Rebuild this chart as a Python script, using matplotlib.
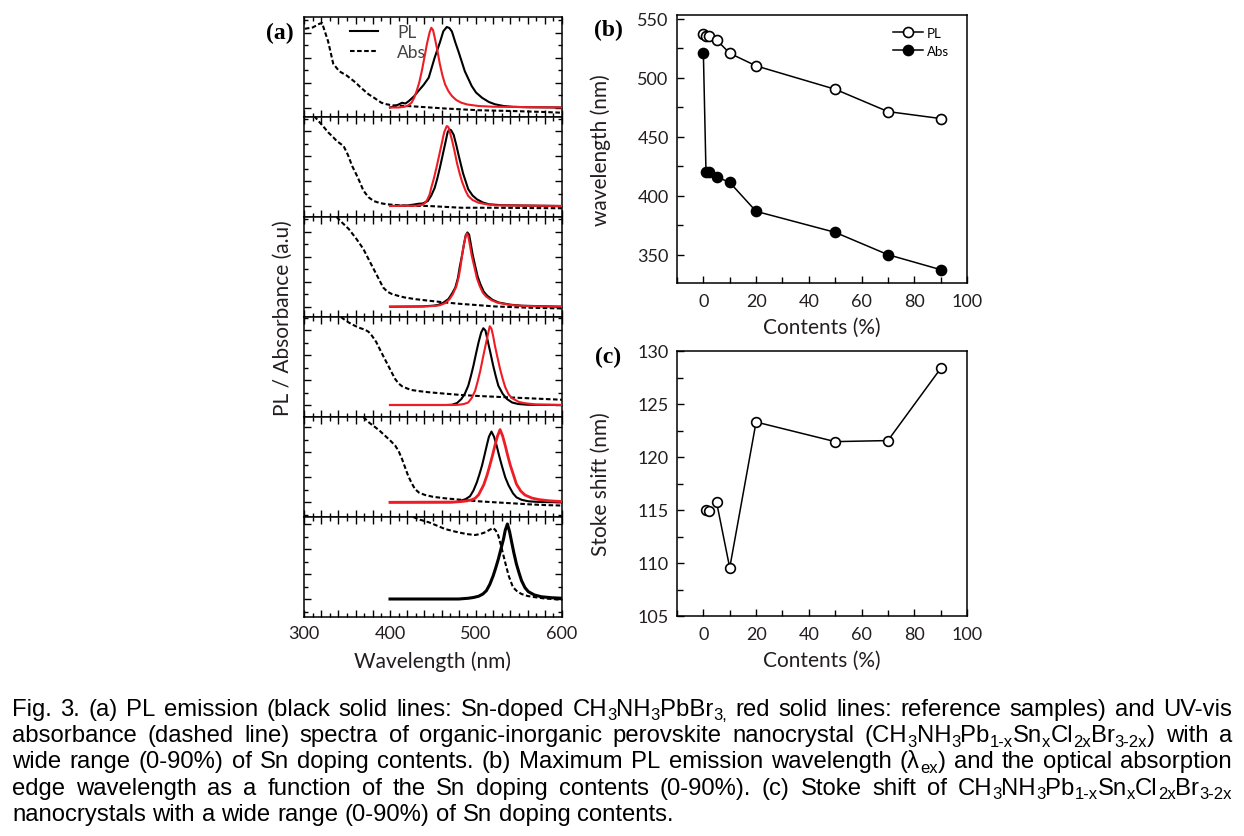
import re
import matplotlib
matplotlib.use('Agg')
import matplotlib.pyplot as plt
from matplotlib.ticker import MultipleLocator, FuncFormatter

plt.rcParams['font.family'] = ['Lato', 'DejaVu Sans']

# ---- (a) spectra: wavelength (nm), intensity (a.u.)
abs1_wl = [301, 310, 318, 321, 328, 334, 341, 350, 360, 365, 375, 381, 390, 396, 402, 412, 425, 464, 503, 541, 580, 600]
abs1 = [3.15, 3.2, 3.35, 3.38, 2.65, 1.75, 1.45, 1.27, 1.0, 0.83, 0.53, 0.4, 0.19, 0.13, 0.09, 0.07, 0.05, -0.04, -0.11, -0.14, -0.18, -0.21]
pl1_wl = [400, 405, 410, 414, 418, 422, 428, 433, 439, 445, 452, 458, 462, 466, 469, 472, 476, 480, 487, 495, 500, 507, 515, 522, 532, 542, 560, 600]
pl1 = [0, 0.05, 0.12, 0.19, 0.16, 0.26, 0.45, 0.66, 0.9, 1.19, 2.0, 2.6, 3.05, 3.22, 3.18, 3.04, 2.6, 2.2, 1.45, 0.86, 0.6, 0.39, 0.22, 0.13, 0.06, 0.03, 0.01, 0]
ref1_wl = [400, 410, 417, 421, 425, 428, 431, 434, 437, 440, 443, 446, 448, 450, 452, 455, 458, 461, 464, 468, 472, 477, 483, 490, 503, 520, 600]
ref1 = [0, 0, 0.03, 0.08, 0.19, 0.38, 0.66, 1.0, 1.46, 2.0, 2.55, 3.0, 3.19, 3.1, 2.8, 2.3, 1.73, 1.28, 0.93, 0.65, 0.46, 0.3, 0.19, 0.12, 0.06, 0.03, 0]

abs2_wl = [312, 315, 322, 328, 334, 338, 346, 351, 356, 361, 365, 369, 375, 381, 388, 396, 417, 445, 483, 522, 560, 600]
abs2 = [3.6, 3.47, 3.2, 2.95, 2.75, 2.6, 2.4, 2.05, 1.6, 1.25, 0.95, 0.62, 0.35, 0.2, 0.12, 0.07, 0.01, 0.0, -0.07, -0.07, -0.08, -0.09]
pl2_wl = [400, 420, 428, 433, 438, 444, 448, 452, 455, 458, 461, 464, 467, 469, 471, 474, 477, 480, 485, 491, 496, 501, 508, 515, 530, 600]
pl2 = [0, 0.02, 0.06, 0.09, 0.1, 0.2, 0.42, 0.73, 1.1, 1.53, 2.0, 2.47, 2.95, 3.07, 3.03, 2.85, 2.45, 2.0, 1.3, 0.67, 0.42, 0.27, 0.14, 0.07, 0.03, 0]
ref2_wl = [400, 430, 437, 440, 443, 446, 448, 451, 454, 457, 460, 463, 466, 468, 470, 472, 475, 478, 481, 484, 488, 491, 496, 503, 512, 522, 600]
ref2 = [0, 0.01, 0.04, 0.1, 0.23, 0.45, 0.73, 1.1, 1.53, 2.0, 2.47, 2.95, 3.2, 3.15, 2.9, 2.65, 2.2, 1.7, 1.3, 0.95, 0.6, 0.4, 0.24, 0.13, 0.07, 0.03, 0]

abs3_wl = [338, 342, 352, 361, 369, 377, 385, 392, 397, 402, 410, 417, 430, 445, 464, 483, 503, 522, 561, 600]
abs3 = [3.59, 3.44, 3.11, 2.71, 2.31, 1.77, 1.24, 0.77, 0.6, 0.51, 0.43, 0.37, 0.3, 0.24, 0.17, 0.11, 0.06, 0.01, -0.04, -0.07]
pl3_wl = [400, 437, 450, 456, 462, 468, 472, 476, 479, 481, 484, 486, 488, 490, 492, 494, 496, 499, 502, 505, 509, 513, 519, 526, 540, 553, 600]
pl3 = [0, 0.01, 0.04, 0.07, 0.16, 0.31, 0.52, 0.77, 1.15, 1.57, 2.1, 2.5, 2.85, 2.97, 2.88, 2.5, 2.1, 1.64, 1.2, 0.91, 0.6, 0.44, 0.28, 0.17, 0.08, 0.04, 0]
ref3_wl = [400, 440, 452, 458, 464, 469, 473, 477, 480, 482, 484, 486, 488, 489.5, 491, 493, 495, 498, 501, 504, 508, 512, 518, 525, 540, 555, 600]
ref3 = [0, 0.01, 0.03, 0.06, 0.14, 0.29, 0.5, 0.8, 1.2, 1.6, 2.1, 2.5, 2.82, 2.93, 2.82, 2.45, 2.05, 1.6, 1.15, 0.85, 0.56, 0.4, 0.26, 0.16, 0.07, 0.03, 0]

abs4_wl = [343, 346, 352, 359, 365, 371, 375, 379, 384, 388, 393, 398, 402, 406, 410, 414, 420, 425, 435, 445, 465, 483, 503, 522, 541, 561, 580, 600]
abs4 = [3.52, 3.44, 3.3, 3.17, 3.08, 3.01, 2.93, 2.77, 2.52, 2.24, 1.9, 1.57, 1.3, 1.04, 0.86, 0.75, 0.66, 0.6, 0.55, 0.51, 0.45, 0.4, 0.36, 0.33, 0.3, 0.27, 0.24, 0.21]
pl4_wl = [400, 465, 472, 478, 483, 487, 491, 494, 497, 500, 503, 506, 508.5, 511, 514, 517, 520, 523, 526, 531, 536, 542, 549, 560, 600]
pl4 = [0, 0, 0.01, 0.08, 0.24, 0.45, 0.77, 1.15, 1.57, 2.05, 2.51, 2.9, 3.07, 2.98, 2.51, 2.05, 1.57, 1.15, 0.77, 0.45, 0.24, 0.1, 0.04, 0.01, 0]
ref4_wl = [400, 475, 480, 486, 491, 495, 499, 502, 505, 508, 511, 514, 516, 518, 520, 522, 525, 528, 531, 534, 538, 542, 550, 557, 570, 600]
ref4 = [0, 0, 0.01, 0.04, 0.1, 0.28, 0.57, 0.95, 1.37, 1.88, 2.37, 2.85, 3.15, 3.05, 2.75, 2.37, 1.9, 1.44, 1.05, 0.71, 0.42, 0.27, 0.12, 0.07, 0.02, 0]

abs5_wl = [369, 376, 383, 389, 394, 400, 406, 410, 414, 418, 421, 425, 429, 434, 441, 450, 464, 483, 503, 522, 542, 561, 580, 600]
abs5 = [3.41, 3.18, 3.0, 2.83, 2.67, 2.48, 2.27, 2.05, 1.73, 1.35, 1.07, 0.78, 0.53, 0.38, 0.29, 0.22, 0.16, 0.1, 0.04, 0.0, -0.04, -0.08, -0.11, -0.13]
pl5_wl = [400, 470, 478, 483, 488, 493, 497, 501, 504, 507, 510, 512.5, 515, 518, 521, 524, 527, 530, 534, 538, 543, 547, 553, 561, 575, 600]
pl5 = [0, 0, 0.02, 0.07, 0.13, 0.24, 0.47, 0.8, 1.12, 1.47, 1.9, 2.27, 2.62, 2.83, 2.62, 2.27, 1.85, 1.47, 1.0, 0.67, 0.36, 0.2, 0.1, 0.04, 0.01, 0]
ref5_wl = [400, 475, 483, 490, 495, 499, 503, 506, 509, 513, 516, 519, 522, 525, 528, 531, 534, 537, 540, 544, 547, 552, 557, 565, 573, 585, 600]
ref5 = [0, 0.01, 0.03, 0.06, 0.1, 0.16, 0.3, 0.5, 0.7, 1.1, 1.47, 1.85, 2.27, 2.65, 2.91, 2.65, 2.27, 1.85, 1.47, 1.05, 0.73, 0.45, 0.29, 0.17, 0.11, 0.06, 0.03]

abs6_wl = [427, 435, 445, 455, 464, 474, 483, 491, 499, 505, 511, 516, 520, 523, 526, 529, 532, 535, 538, 541, 543, 548, 553, 560, 569, 580, 600]
abs6 = [3.28, 3.17, 3.07, 2.93, 2.8, 2.71, 2.64, 2.59, 2.56, 2.6, 2.67, 2.77, 2.84, 2.74, 2.53, 2.15, 1.73, 1.32, 0.93, 0.65, 0.47, 0.3, 0.2, 0.12, 0.07, 0.02, -0.03]
pl6_wl = [400, 480, 491, 497, 503, 508, 512, 516, 520, 523, 526, 529, 532, 534, 536.5, 539, 541.5, 544, 547, 550, 553, 557, 561, 568, 576, 588, 600]
pl6 = [0, 0, 0.03, 0.06, 0.11, 0.2, 0.33, 0.58, 0.93, 1.25, 1.6, 2.0, 2.4, 2.75, 3.0, 2.7, 2.27, 1.85, 1.4, 1.05, 0.73, 0.45, 0.29, 0.16, 0.09, 0.05, 0.03]

# ---- (b) peak PL wavelength and absorption edge vs Sn content
pl_x = [0, 1, 2, 5, 10, 20, 50, 70, 90]
pl_peak = [537.2, 535.2, 535.0, 531.9, 520.6, 509.9, 490.1, 471.2, 465.3]
abs_x = [0, 1, 2, 5, 10, 20, 50, 70, 90]
abs_edge = [521.1, 419.6, 419.6, 416.0, 411.2, 386.7, 368.9, 350.0, 337.3]

# ---- (c) Stoke shift
ss_x = [1, 2, 5, 10, 20, 50, 70, 90]
ss = [115.0, 114.9, 115.75, 109.55, 123.3, 121.45, 121.55, 128.35]

caption = [
    "Fig. 3. (a) PL emission (black solid lines: Sn-doped CH_{3}NH_{3}PbBr_{3,} red solid lines: reference samples) and UV-vis",
    "absorbance (dashed line) spectra of organic-inorganic perovskite nanocrystal (CH_{3}NH_{3}Pb_{1-x}Sn_{x}Cl_{2x}Br_{3-2x}) with a",
    "wide range (0-90%) of Sn doping contents. (b) Maximum PL emission wavelength (λ_{ex}) and the optical absorption",
    "edge wavelength as a function of the Sn doping contents (0-90%). (c) Stoke shift of CH_{3}NH_{3}Pb_{1-x}Sn_{x}Cl_{2x}Br_{3-2x}",
    "nanocrystals with a wide range (0-90%) of Sn doping contents.",
]

W, H = 1244, 837
fig = plt.figure(figsize=(W / 100, H / 100), dpi=100)
TXT = '#231f20'
RED = '#ee1c24'


def rect(l, t, r, b):
    return [l / W, 1 - b / H, (r - l) / W, (b - t) / H]


panels = [
    (abs1_wl, abs1, pl1_wl, pl1, ref1_wl, ref1),
    (abs2_wl, abs2, pl2_wl, pl2, ref2_wl, ref2),
    (abs3_wl, abs3, pl3_wl, pl3, ref3_wl, ref3),
    (abs4_wl, abs4, pl4_wl, pl4, ref4_wl, ref4),
    (abs5_wl, abs5, pl5_wl, pl5, ref5_wl, ref5),
    (abs6_wl, abs6, pl6_wl, pl6, None, None),
]
base_px = [108.5, 207, 307.7, 406, 503.3, 600]   # pixel row of the zero line in each panel

for i, (awl, av, pwl, pv, rwl, rv) in enumerate(panels):
    top = 18 + 100 * i
    ax = fig.add_axes(rect(304, top, 562, top + 100))
    b = base_px[i]
    ax.set_ylim(-(top + 100 - b) / 25, (b - top) / 25)
    ax.set_xlim(300, 600)
    ax.plot(awl, av, color='black', lw=1.5, ls=(0, (2.2, 1.2)), label='Abs')
    if rv is not None:
        ax.plot(rwl, rv, color=RED, lw=2.0 if i == 4 else 1.5, zorder=3)
    ax.plot(pwl, pv, color='black', lw=2.2 if i == 5 else 1.5, label='PL', zorder=3 if i == 5 else 2)
    ax.xaxis.set_major_locator(MultipleLocator(20))
    ax.xaxis.set_minor_locator(MultipleLocator(10))
    ax.yaxis.set_major_locator(MultipleLocator(1))
    ax.yaxis.set_minor_locator(MultipleLocator(0.5))
    ax.tick_params(which='both', direction='in', top=True, right=True, width=1.0)
    ax.tick_params(which='major', length=5)
    ax.tick_params(which='minor', length=3)
    ax.tick_params(axis='y', labelleft=False)
    for s in ax.spines.values():
        s.set_linewidth(1.1)
    if i < 5:
        ax.tick_params(axis='x', labelbottom=False)
    else:
        ax.xaxis.set_major_formatter(FuncFormatter(lambda v, p: f'{v:.0f}' if v % 100 == 0 else ''))
        ax.tick_params(axis='x', labelsize=13, labelcolor=TXT, pad=6)
    if i == 0:
        h, l = ax.get_legend_handles_labels()
        ax.legend(h[::-1], l[::-1], loc='upper left', bbox_to_anchor=(0.18, 0.93), frameon=False,
                  fontsize=12.5, handlelength=1.6, handletextpad=1.1, labelspacing=0.25,
                  borderpad=0, borderaxespad=0, labelcolor='#444444')

fig.text(283 / W, 1 - 318 / H, 'PL / Absorbance (a.u)', rotation=90, ha='center', va='center',
         fontsize=15, color=TXT)
fig.text(433 / W, 1 - 662 / H, 'Wavelength (nm)', ha='center', va='center', fontsize=15, color=TXT)


def style_right(ax, ymaj, ymin):
    ax.set_xlim(-10, 100)
    ax.xaxis.set_major_locator(MultipleLocator(20))
    ax.xaxis.set_minor_locator(MultipleLocator(10))
    ax.yaxis.set_major_locator(MultipleLocator(ymaj))
    ax.yaxis.set_minor_locator(MultipleLocator(ymin))
    ax.tick_params(which='both', direction='in', labelsize=13, labelcolor=TXT, width=1.0)
    ax.tick_params(which='major', length=5)
    ax.tick_params(which='minor', length=4)
    ax.tick_params(axis='x', pad=7)
    ax.tick_params(axis='y', pad=6)
    for s in ax.spines.values():
        s.set_linewidth(1.1)
    ax.set_xlabel('Contents (%)', fontsize=15, color=TXT, labelpad=6)


# (b)
axb = fig.add_axes(rect(677, 16, 967, 284))
axb.plot(pl_x, pl_peak, '-o', color='black', mfc='white', mec='black', ms=7.2, mew=1.2, lw=1.1, label='PL')
axb.plot(abs_x, abs_edge, '-o', color='black', mfc='black', ms=7.2, mew=1.2, lw=1.1, label='Abs')
axb.set_ylim(326, 553)
style_right(axb, 50, 25)
axb.set_ylabel('wavelength (nm)', fontsize=15, color=TXT)
axb.yaxis.set_label_coords(-0.228, 0.5)
axb.legend(loc='upper left', bbox_to_anchor=(0.745, 0.955), frameon=False, fontsize=9.5,
           handlelength=2.3, handletextpad=0.25, labelspacing=0.45, borderpad=0, borderaxespad=0)

# (c)
axc = fig.add_axes(rect(677, 352, 967, 617))
axc.plot(ss_x[2:], ss[2:], '-o', color='black', mfc='white', mec='black', ms=7, mew=1.2, lw=1.1)
axc.plot(ss_x[:2], ss[:2], 'o', color='black', mfc='white', mec='black', ms=7, mew=1.2)
axc.set_ylim(105, 130)
style_right(axc, 5, 2.5)
axc.set_ylabel('Stoke shift (nm)', fontsize=15, color=TXT)
axc.yaxis.set_label_coords(-0.228, 0.5)

for lab, x, y in [('(a)', 280, 33), ('(b)', 608, 30), ('(c)', 608, 357)]:
    fig.text(x / W, 1 - y / H, lab, ha='center', va='center', fontsize=17, fontweight='bold',
             family='Liberation Serif', color='black')

# ---- caption, justified word by word
CAP_FONT = ['Liberation Sans', 'DejaVu Sans']
CAP_SIZE, SUB_SIZE = 17.2, 12
renderer = fig.canvas.get_renderer()


def segments(word):
    out = []
    for p in re.split(r'(_\{[^}]*\})', word):
        if not p:
            continue
        if p.startswith('_{'):
            out.append((p[2:-1], True))
        else:
            out.append((p, False))
    return out


def make_word(word):
    items = []
    width = 0
    for txt, sub in segments(word):
        t = fig.text(0, 0, txt, fontsize=SUB_SIZE if sub else CAP_SIZE, family=CAP_FONT,
                     va='baseline', ha='left')
        w = t.get_window_extent(renderer).width
        items.append((t, width, sub))
        width += w
    return items, width


sp = fig.text(0, 0, 'a a', fontsize=CAP_SIZE, family=CAP_FONT)
sp2 = fig.text(0, 0, 'aa', fontsize=CAP_SIZE, family=CAP_FONT)
space_w = sp.get_window_extent(renderer).width - sp2.get_window_extent(renderer).width
sp.remove()
sp2.remove()

x0, x1 = 12, 1232
for k, line in enumerate(caption):
    base = 716 + 26.2 * k
    words = [make_word(w) for w in line.split(' ')]
    total = sum(w for _, w in words)
    if k < len(caption) - 1:
        gap = (x1 - x0 - total) / (len(words) - 1)
    else:
        gap = space_w
    x = x0
    for items, w in words:
        for t, off, sub in items:
            t.set_position(((x + off) / W, 1 - (base + (4.5 if sub else 0)) / H))
        x += w + gap

fig.savefig('out.png', dpi=100)
